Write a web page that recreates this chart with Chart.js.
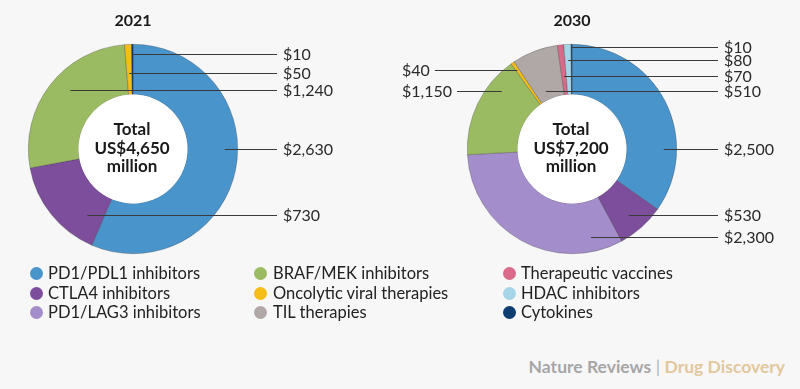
<!DOCTYPE html>
<html><head><meta charset="utf-8">
<script src="https://cdn.jsdelivr.net/npm/chart.js@4/dist/chart.umd.min.js"></script>
<style>
html,body{margin:0;padding:0;}
body{width:800px;height:389px;overflow:hidden;position:relative;background:#f7f7f7;font-family:Lato,"Noto Sans",sans-serif;}
canvas{position:absolute;top:0;}
#c1{left:0;}
#c2{left:400px;}
.lg{position:absolute;font-size:16.5px;color:#222;white-space:nowrap;line-height:20px;}
.dot{position:absolute;width:13px;height:13px;border-radius:50%;}
#footer{position:absolute;right:15px;top:355px;font-size:17.5px;font-weight:700;white-space:nowrap;line-height:24px;}
</style></head>
<body>
<canvas id="c1" width="400" height="265"></canvas>
<canvas id="c2" width="400" height="265"></canvas>
<div id="legend"></div>
<div id="footer"><span style="color:#a6a6a6">Nature Reviews</span><span style="color:#b5b5b5;font-weight:400"> | </span><span style="color:#e3c89c">Drug Discovery</span></div>
<script>
// ---- data ----
const categories = ["PD1/PDL1 inhibitors","CTLA4 inhibitors","PD1/LAG3 inhibitors","BRAF/MEK inhibitors","Oncolytic viral therapies","TIL therapies","Therapeutic vaccines","HDAC inhibitors","Cytokines"];
const values2021 = [2630, 730, 0, 1240, 50, 0, 0, 0, 10];
const values2030 = [2500, 530, 2300, 1150, 40, 510, 70, 80, 10];
const titles = ["2021", "2030"];
const totals = ["US$4,650", "US$7,200"];
const colors = ["#4a94cc","#7c4e9c","#a38dcb","#9bbb63","#f5bd17","#b0a8a6","#d96a8a","#a6d4e8","#0e3d70"];

// ---- label anchor layout (index, fraction along slice angle, radius fraction, side) ----
const labels2021 = [[8,0.5,0.905,"r"],[4,0.5,0.73,"r"],[3,0.56,0.82,"r"],[0,0.443,0.876,"r"],[1,0.2,0.77,"r"]];
const labels2030 = [[8,0.5,0.97,"r"],[7,0.5,0.85,"r"],[6,0.5,0.70,"r"],[5,0.37,0.61,"r"],[0,0.72,0.876,"r"],[1,0.53,0.83,"r"],[2,0.14,0.86,"r"],[4,0.5,0.92,"l"],[3,0.74,0.87,"l"]];

function fmt(v){ return "$" + v.toLocaleString("en-US"); }

const annot = {
  id: "annot",
  afterDatasetsDraw(chart, args, opts) {
    const ctx = chart.ctx;
    const meta = chart.getDatasetMeta(0);
    const arc0 = meta.data[0];
    const cx = arc0.x, cy = arc0.y, R = arc0.outerRadius, r = arc0.innerRadius;
    ctx.save();
    // white centre
    ctx.beginPath(); ctx.arc(cx, cy, r, 0, Math.PI*2); ctx.fillStyle = "#ffffff"; ctx.fill();
    // centre text
    ctx.fillStyle = "#1a1a1a"; ctx.textAlign = "center"; ctx.textBaseline = "middle";
    ctx.font = "700 17px Lato";
    ctx.fillText("Total", cx - 1, cy - 19);
    ctx.fillText(opts.total, cx - 1, cy - 0.5);
    ctx.fillText("million", cx - 1, cy + 18);
    // title
    ctx.font = "700 16px Lato";
    ctx.fillText(opts.title, cx, cy - 128);
    // labels
    ctx.font = "400 16px Lato";
    ctx.strokeStyle = "#3a3a3a"; ctx.lineWidth = 1;
    const vals = chart.data.datasets[0].data;
    opts.labels.forEach(([i, t, rf, side]) => {
      const a = meta.data[i];
      const ang = a.startAngle + (a.endAngle - a.startAngle) * t;
      const ax = cx + R * rf * Math.cos(ang);
      const ay = Math.round(cy + R * rf * Math.sin(ang)) + 0.5;
      const txt = fmt(vals[i]);
      ctx.fillStyle = "#2a2a2a";
      ctx.textBaseline = "middle";
      if (side === "r") {
        ctx.beginPath(); ctx.moveTo(ax, ay); ctx.lineTo(opts.lineEnd, ay); ctx.stroke();
        ctx.textAlign = "left";
        ctx.fillText(txt, opts.lineEnd + 6, ay);
      } else {
        ctx.textAlign = "left";
        ctx.fillText(txt, opts.leftX, ay);
        const w = ctx.measureText(txt).width;
        ctx.beginPath(); ctx.moveTo(opts.leftX + w + 5, ay); ctx.lineTo(ax, ay); ctx.stroke();
      }
    });
    ctx.restore();
  }
};

function makeChart(id, values, title, total, labels, pad, lineEnd, leftX) {
  return new Chart(document.getElementById(id), {
    type: "doughnut",
    data: { labels: categories, datasets: [{ data: values, backgroundColor: colors,
      borderColor: "rgba(40,40,40,0.45)",
      borderWidth: (c) => (c.raw > 0 ? 0.6 : 0) }] },
    options: {
      responsive: false, animation: false, cutout: "52%",
      layout: { padding: pad },
      plugins: { legend: { display: false }, tooltip: { enabled: false },
        annot: { title, total, labels, lineEnd, leftX } }
    },
    plugins: [annot]
  });
}
makeChart("c1", values2021, titles[0], totals[0], labels2021, {left:28, top:44, right:162, bottom:11}, 277, 0);
makeChart("c2", values2030, titles[1], totals[1], labels2030, {left:67, top:44, right:123, bottom:11}, 318, 2);

// legend
const lg = document.getElementById("legend");
const colX = [36, 260, 509], textX = [48, 273, 521], rowY = [273, 293, 312];
categories.forEach((name, i) => {
  const col = Math.floor(i / 3), row = i % 3;
  const d = document.createElement("div"); d.className = "dot";
  d.style.background = colors[i]; d.style.left = (colX[col] - 6.5) + "px"; d.style.top = (rowY[row] - 6.5) + "px";
  lg.appendChild(d);
  const s = document.createElement("div"); s.className = "lg"; s.textContent = name;
  s.style.left = textX[col] + "px"; s.style.top = (rowY[row] - 10) + "px";
  lg.appendChild(s);
});
</script>
</body></html>
